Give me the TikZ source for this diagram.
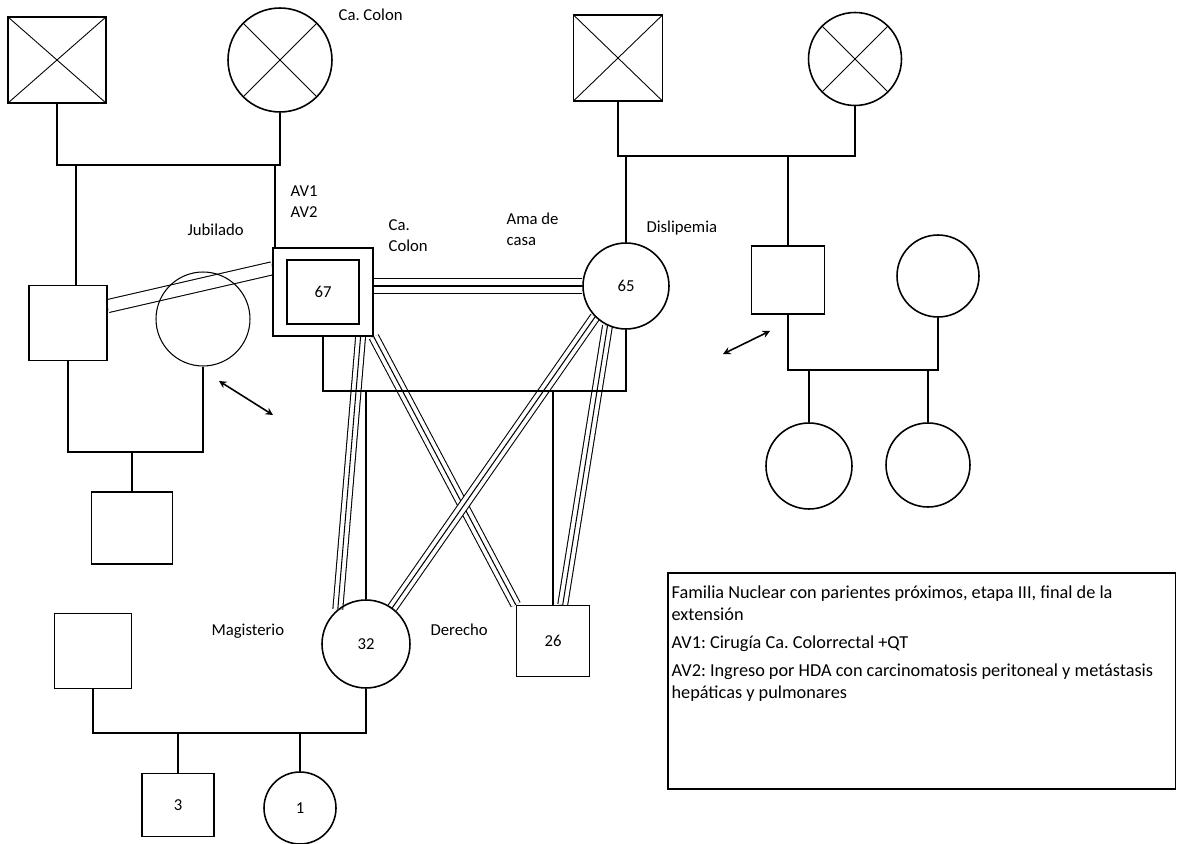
\documentclass[tikz,border=0pt]{standalone}
\usepackage{fontspec}
\setmainfont{Carlito}
\usetikzlibrary{backgrounds}
\frenchspacing

\begin{document}
\begin{tikzpicture}[x=0.02cm, y=-0.02cm, line width=0.7pt,
    every node/.style={font=\fontsize{9.5}{12}\selectfont},
    male/.style={draw, rectangle, line width=0.9pt, inner sep=0pt},
    female/.style={draw, circle, line width=0.9pt, inner sep=0pt},
    dead/.style={path picture={\draw[line width=0.5pt]
        (path picture bounding box.north west) -- (path picture bounding box.south east)
        (path picture bounding box.north east) -- (path picture bounding box.south west);}},
    lbl/.style={anchor=west, align=left, inner sep=0pt},
    tripleline/.style={line width=#1, postaction={draw=white, line width=#1-1.2pt},
        postaction={draw=black, line width=0.6pt}},
    doubleline/.style={double, double distance=6.8pt, line width=0.6pt},
    rel/.style={<->, >=stealth, line width=0.9pt}]
  \useasboundingbox (0,0) rectangle (1177,844);

  % Grandparents, left side
  \node[male, dead, minimum width=1.96cm, minimum height=1.72cm] (gf1) at (57,60) {};
  \node[female, dead, minimum size=2.08cm] (gm1) at (280,60) {};
  \node[lbl] (ccolon) at (338,15) {Ca. Colon};

  % Grandparents, right side
  \node[male, dead, minimum width=1.78cm, minimum height=1.72cm] (gf2) at (618,58) {};
  \node[female, dead, minimum size=1.86cm] (gm2) at (855,59) {};

  % Index couple
  \node[male, minimum width=2cm, minimum height=1.76cm] (idx) at (323,292) {};
  \node[male, minimum width=1.44cm, minimum height=1.28cm] (idxin) at (idx) {67};
  \node[female, minimum size=1.72cm] (wife) at (626,286) {65};

  % Brother, his wife and son
  \node[male, minimum width=1.56cm, minimum height=1.5cm] (bro) at (68,323) {};
  \node[female, line width=0.6pt, minimum size=1.88cm] (browife) at (203,319) {};
  \node[male, minimum width=1.62cm, minimum height=1.44cm] (nephew) at (132,528) {};

  % Wife's brother, his wife and daughters
  \node[male, minimum width=1.46cm, minimum height=1.36cm] (bil) at (788,280) {};
  \node[female, minimum size=1.64cm] (sil) at (938,276) {};
  \node[female, minimum size=1.72cm] (niece1) at (809,466) {};
  \node[female, minimum size=1.68cm] (niece2) at (928,465) {};

  % Children and grandchildren
  \node[female, minimum size=1.76cm] (dau) at (366,644) {32};
  \node[male, minimum width=1.46cm, minimum height=1.42cm] (son) at (553,641) {26};
  \node[male, minimum width=1.54cm, minimum height=1.5cm] (sonlaw) at (93,651) {};
  \node[male, minimum width=1.44cm, minimum height=1.26cm] (gson) at (178,805) {3};
  \node[female, minimum size=1.44cm] (gdau) at (300,808) {1};

  % Labels
  \node[lbl] (av) at (290,202) {AV1\\AV2};
  \node[lbl] (jub) at (187,230) {Jubilado};
  \node[lbl] (cc) at (388,236) {Ca.\\Colon};
  \node[lbl] (ama) at (506,229) {Ama de\\casa};
  \node[lbl] (disl) at (646,228) {Dislipemia};
  \node[lbl] (mag) at (211,631) {Magisterio};
  \node[lbl] (der) at (430,630) {Derecho};

  % Legend
  \node[draw, line width=0.9pt, minimum width=10.16cm, minimum height=4.32cm,
        anchor=north west] (legend) at (667,572) {};
  \node[anchor=north west, align=left, inner sep=0pt,
        font=\fontsize{10.4}{12.6}\selectfont] (legendtxt) at (671,585)
    {Familia Nuclear con parientes próximos, etapa III, final de la\\
     extensión\\[3.4pt]
     AV1: Cirugía Ca. Colorrectal +QT\\[3.4pt]
     AV2: Ingreso por HDA con carcinomatosis peritoneal y metástasis\\
     hepáticas y pulmonares};

  % Couple and child lines
  \coordinate (m1) at (280,165);
  \coordinate (m1a) at (76,165);
  \coordinate (m1b) at (275,165);
  \draw (gf1.south) |- (m1) -- (gm1.south);
  \draw (m1a) -- (m1a |- bro.north);
  \draw (m1b) -- (m1b |- idx.north);

  \coordinate (m2) at (855,156);
  \draw (gf2.south) |- (m2) -- (gm2.south);
  \draw (wife.north) -- (wife.north |- m2);
  \draw (bil.north) -- (bil.north |- m2);

  \coordinate (m3) at (203,452);
  \draw (bro.south) |- (m3) -- (browife.south);
  \draw (nephew.north) -- (nephew.north |- m3);

  \coordinate (m4) at (626,391);
  \draw (idx.south) |- (m4) -- (wife.south);
  \draw (dau.north) -- (dau.north |- m4);
  \draw (son.north) -- (son.north |- m4);

  \coordinate (m5) at (366,733);
  \draw (sonlaw.south) |- (m5) -- (dau.south);
  \draw (gson.north) -- (gson.north |- m5);
  \draw (gdau.north) -- (gdau.north |- m5);

  \coordinate (m6) at (938,370);
  \draw (bil.south) |- (m6) -- (sil.south);
  \draw (niece1.north) -- (niece1.north |- m6);
  \draw (niece2.north) -- (niece2.north |- m6);

  % Relationship lines
  \begin{scope}[on background layer]
    \draw[doubleline] (bro.23) -- (idx.155);
    \draw[tripleline=9.6pt] (wife.west -| idx.east) -- (wife.west);
    \draw[tripleline=6.2pt] (idx.-50) -- (dau.129);
    \draw[tripleline=6.2pt] (idx.south east) -- (son.north west);
    \draw[tripleline=6.2pt] (wife.225) -- (dau.54);
    \draw[tripleline=6.2pt] (wife.245) -- (son.75);
  \end{scope}

  % Arrows
  \coordinate (a1) at (219,381);
  \coordinate (a2) at (273,415);
  \coordinate (a3) at (723,354);
  \coordinate (a4) at (770,331);
  \draw[rel] (a1) -- (a2);
  \draw[rel] (a3) -- (a4);
\end{tikzpicture}
\end{document}
